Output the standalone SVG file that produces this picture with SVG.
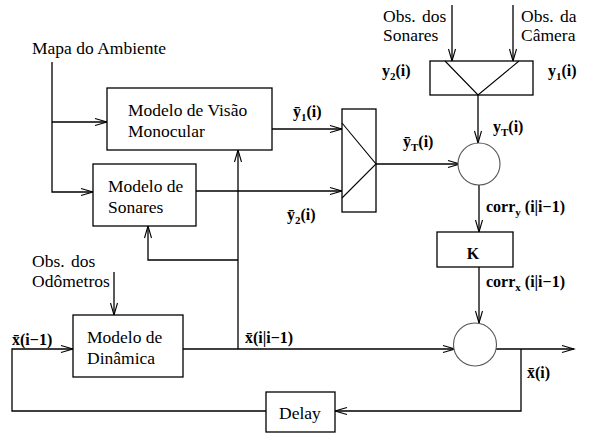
<svg xmlns="http://www.w3.org/2000/svg" width="614" height="444" viewBox="0 0 614 444">
<defs>
<style>
.box{fill:#fff;stroke:#000;stroke-width:1.3}
.thin{fill:none;stroke:#000;stroke-width:1.1}
.circ{fill:#fff;stroke:#555;stroke-width:1.1}
.w{stroke:#000;stroke-width:1.3;fill:none}
.t{font-family:"Liberation Serif","Times New Roman",serif;font-size:17.5px;fill:#000}
.b{font-family:"Liberation Serif","Times New Roman",serif;font-size:16px;font-weight:bold;fill:#000}
.s{font-size:11px}
</style>
<marker id="ah" markerUnits="userSpaceOnUse" markerWidth="14" markerHeight="10" refX="12" refY="4" orient="auto" overflow="visible">
<path d="M0,0.5 L12,4 L0,7.5" fill="none" stroke="#000" stroke-width="1.1"/>
</marker>
</defs>
<rect width="614" height="444" fill="#fff"/>

<g id="connectors" class="w" marker-end="url(#ah)">
<path d="M52,62 V192 H93"/>
<path d="M52,122 H107"/>
<path d="M272,129 H342"/>
<path d="M196,191 H342"/>
<path d="M376,164 H460"/>
<path d="M452,5 V61"/>
<path d="M513,5 V61"/>
<path d="M478,95 V143"/>
<path d="M479,185 V232"/>
<path d="M479,267 V323"/>
<path d="M183,349 H455"/>
<path d="M238,349 V150"/>
<path d="M238,260 H148 V226"/>
<path d="M493,349 H574"/>
<path d="M521,349 V411 H335"/>
<path d="M266,411 H12 V349 H73"/>
<path d="M114,272 V315"/>
</g>

<g id="mapa">
<text class="t" x="32" y="54">Mapa do Ambiente</text>
</g>

<g id="visao">
<rect class="box" x="107" y="88" width="165" height="62"/>
<text class="t" x="128" y="116">Modelo de Visão</text>
<text class="t" x="128" y="137">Monocular</text>
</g>

<g id="sonares">
<rect class="box" x="93" y="164" width="103" height="62"/>
<text class="t" x="108" y="192">Modelo de</text>
<text class="t" x="108" y="213">Sonares</text>
</g>

<g id="comb1">
<rect class="box" x="342" y="109" width="34" height="103"/>
<path class="thin" d="M342,123 L376,164 L342,198"/>
</g>

<g id="comb2">
<rect class="box" x="430" y="61" width="103" height="34"/>
<path class="thin" d="M445,61 L478,95 L519,61"/>
</g>

<g id="obs-sonares">
<text class="t" x="383" y="22" word-spacing="2">Obs. dos</text>
<text class="t" x="383" y="41">Sonares</text>
</g>
<g id="obs-camera">
<text class="t" x="521" y="22" word-spacing="2">Obs. da</text>
<text class="t" x="521" y="41">Câmera</text>
</g>

<g id="sum1">
<circle class="circ" cx="479" cy="164" r="21"/>
</g>

<g id="K">
<rect class="box" x="437" y="232" width="76" height="35"/>
<text class="b" x="473" y="259" text-anchor="middle" font-size="17">K</text>
</g>

<g id="sum2">
<circle class="circ" cx="475" cy="344.5" r="21.5"/>
</g>

<g id="dinamica">
<rect class="box" x="73" y="315" width="110" height="62"/>
<text class="t" x="87" y="343">Modelo de</text>
<text class="t" x="87" y="364">Dinâmica</text>
</g>

<g id="obs-odometros">
<text class="t" x="32" y="267" word-spacing="2">Obs. dos</text>
<text class="t" x="32" y="287">Odômetros</text>
</g>

<g id="delay">
<rect class="box" x="266" y="392" width="69" height="40"/>
<text class="t" x="279" y="419">Delay</text>
</g>

<g id="labels">
<text class="b" x="382" y="76">y<tspan class="s" dy="4">2</tspan><tspan dy="-4">(i)</tspan></text>
<text class="b" x="548" y="76">y<tspan class="s" dy="4">1</tspan><tspan dy="-4">(i)</tspan></text>
<text class="b" x="493" y="132">y<tspan class="s" dy="4">T</tspan><tspan dy="-4">(i)</tspan></text>
<text class="b" x="403" y="147">ȳ<tspan class="s" dy="4">T</tspan><tspan dy="-4">(i)</tspan></text>
<text class="b" x="293" y="117">ȳ<tspan class="s" dy="4">1</tspan><tspan dy="-4">(i)</tspan></text>
<text class="b" x="287" y="220">ȳ<tspan class="s" dy="4">2</tspan><tspan dy="-4">(i)</tspan></text>
<text class="b" x="486" y="212">corr<tspan class="s" dy="4">y</tspan><tspan dy="-4"> (i|i−1)</tspan></text>
<text class="b" x="486" y="287">corr<tspan class="s" dy="4">x</tspan><tspan dy="-4"> (i|i−1)</tspan></text>
<text class="b" x="12" y="345" font-size="17">x̄(i−1)</text>
<text class="b" x="245" y="343" font-size="17">x̄(i|i−1)</text>
<text class="b" x="527" y="378" font-size="17">x̄(i)</text>
</g>
</svg>
